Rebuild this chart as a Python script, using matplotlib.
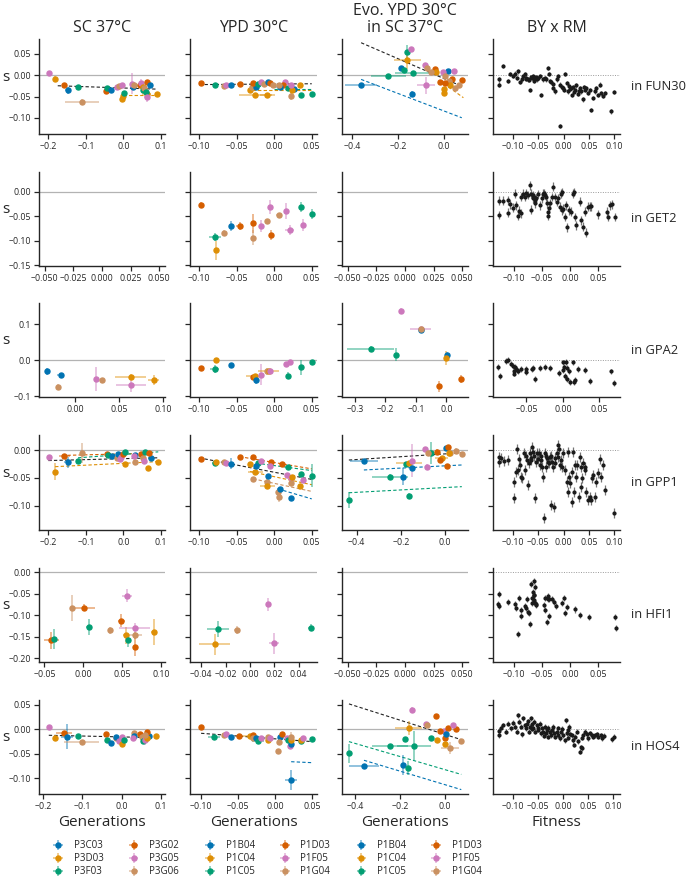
import numpy as np
import matplotlib
matplotlib.use("Agg")
import matplotlib.pyplot as plt

plt.rcParams["font.family"] = ["Open Sans", "DejaVu Sans"]

# ─── Data ─────────────────────────────────────────────────────────────────────

PAL = ["#0173b2", "#de8f05", "#029e73", "#d55e00", "#cc78bc", "#ca9161"]
STRAINS_SC = ["P3C03", "P3D03", "P3F03", "P3G02", "P3G05", "P3G06"]
STRAINS_YPD = ["P1B04", "P1C04", "P1C05", "P1D03", "P1F05", "P1G04"]
GENES = ["FUN30", "GET2", "GPA2", "GPP1", "HFI1", "HOS4"]
COL_TITLES = ["SC 37°C", "YPD 30°C", "Evo. YPD 30°C\nin SC 37°C", "BY x RM"]

# rows: (strain index, generations, s, generations err, s err)
FUN30_SC = [
    (4, -0.198, 0.005, 0.004, 0.003), (1, -0.182, -0.008, 0.003, 0.006),
    (3, -0.158, -0.024, 0.004, 0.003), (0, -0.149, -0.035, 0.008, 0.008),
    (2, -0.122, -0.027, 0.004, 0.004), (5, -0.111, -0.063, 0.045, 0.006),
    (3, -0.047, -0.038, 0.004, 0.003), (2, -0.043, -0.029, 0.003, 0.003),
    (0, -0.033, -0.034, 0.003, 0.003), (4, -0.018, -0.027, 0.003, 0.003),
    (5, -0.013, -0.026, 0.003, 0.003), (4, -0.005, -0.024, 0.003, 0.003),
    (1, -0.004, -0.056, 0.003, 0.004), (1, 0.000, -0.049, 0.003, 0.004),
    (2, 0.002, -0.041, 0.003, 0.003), (0, 0.026, -0.027, 0.004, 0.003),
    (4, 0.024, -0.020, 0.003, 0.025), (5, 0.028, -0.022, 0.003, 0.003),
    (3, 0.044, -0.024, 0.003, 0.003), (4, 0.048, -0.018, 0.003, 0.008),
    (1, 0.051, -0.027, 0.003, 0.003), (1, 0.062, -0.044, 0.012, 0.003),
    (2, 0.053, -0.035, 0.003, 0.003), (5, 0.055, -0.030, 0.003, 0.003),
    (2, 0.059, -0.040, 0.003, 0.003), (4, 0.062, -0.051, 0.008, 0.013),
    (3, 0.064, -0.015, 0.003, 0.003), (0, 0.070, -0.024, 0.003, 0.004),
    (1, 0.089, -0.044, 0.004, 0.003),
]
FUN30_YPD = [
    (3, -0.097, -0.018, 0.002, 0.003), (2, -0.079, -0.024, 0.003, 0.003),
    (5, -0.067, -0.026, 0.002, 0.003), (4, -0.064, -0.022, 0.002, 0.003),
    (0, -0.058, -0.023, 0.002, 0.003), (3, -0.046, -0.020, 0.003, 0.003),
    (1, -0.032, -0.035, 0.002, 0.003), (1, -0.025, -0.046, 0.022, 0.003),
    (1, -0.009, -0.047, 0.010, 0.003), (5, -0.029, -0.027, 0.002, 0.003),
    (0, -0.024, -0.027, 0.002, 0.003), (3, -0.028, -0.018, 0.002, 0.003),
    (2, -0.022, -0.020, 0.002, 0.003), (4, -0.018, -0.015, 0.002, 0.003),
    (5, -0.013, -0.020, 0.002, 0.003), (0, -0.008, -0.016, 0.002, 0.003),
    (3, -0.005, -0.018, 0.002, 0.003), (5, -0.002, -0.022, 0.002, 0.003),
    (4, 0.015, -0.016, 0.002, 0.003), (3, 0.012, -0.022, 0.002, 0.003),
    (0, 0.008, -0.027, 0.010, 0.003), (5, 0.006, -0.024, 0.002, 0.003),
    (2, 0.018, -0.030, 0.002, 0.003), (0, 0.027, -0.032, 0.002, 0.003),
    (5, 0.022, -0.049, 0.002, 0.010), (1, 0.024, -0.034, 0.002, 0.003),
    (4, 0.022, -0.024, 0.002, 0.003), (1, 0.035, -0.022, 0.002, 0.003),
    (2, 0.036, -0.047, 0.002, 0.004), (2, 0.050, -0.044, 0.002, 0.003),
]
FUN30_EVO = [
    (0, -0.359, -0.022, 0.070, 0.004), (2, -0.243, -0.002, 0.076, 0.004),
    (0, -0.185, 0.016, 0.008, 0.003), (2, -0.173, 0.013, 0.008, 0.003),
    (2, -0.159, 0.054, 0.006, 0.017), (4, -0.144, 0.062, 0.006, 0.004),
    (1, -0.159, 0.035, 0.060, 0.020), (2, -0.134, 0.005, 0.080, 0.004),
    (0, -0.141, -0.044, 0.006, 0.008), (4, -0.083, 0.023, 0.008, 0.003),
    (5, -0.076, 0.017, 0.006, 0.003), (3, -0.039, 0.015, 0.006, 0.003),
    (1, -0.036, 0.007, 0.006, 0.003), (4, -0.079, -0.024, 0.040, 0.020),
    (3, -0.017, -0.016, 0.006, 0.003), (5, -0.057, 0.007, 0.006, 0.003),
    (0, 0.016, 0.009, 0.006, 0.003), (4, -0.003, 0.007, 0.006, 0.003),
    (4, 0.045, 0.009, 0.006, 0.003), (3, 0.033, -0.010, 0.006, 0.003),
    (3, 0.077, -0.012, 0.006, 0.003), (5, 0.004, -0.001, 0.006, 0.003),
    (5, 0.022, -0.014, 0.006, 0.003), (5, 0.048, -0.030, 0.006, 0.003),
    (5, 0.063, -0.022, 0.006, 0.003), (1, 0.000, -0.032, 0.006, 0.004),
    (1, 0.001, -0.042, 0.006, 0.004), (1, 0.026, -0.022, 0.006, 0.003),
    (3, 0.004, -0.018, 0.006, 0.003),
]
GET2_SC = []
GET2_YPD = [
    (3, -0.097, -0.028, 0.002, 0.006), (2, -0.079, -0.093, 0.008, 0.008),
    (1, -0.077, -0.120, 0.002, 0.020), (5, -0.067, -0.084, 0.002, 0.005),
    (0, -0.058, -0.070, 0.002, 0.010), (3, -0.046, -0.071, 0.005, 0.008),
    (3, -0.028, -0.065, 0.002, 0.020), (5, -0.028, -0.094, 0.002, 0.015),
    (5, -0.009, -0.060, 0.002, 0.004), (4, -0.018, -0.071, 0.002, 0.012),
    (4, -0.005, -0.031, 0.002, 0.014), (3, -0.004, -0.089, 0.002, 0.010),
    (5, 0.006, -0.048, 0.004, 0.005), (4, 0.016, -0.039, 0.002, 0.016),
    (4, 0.021, -0.079, 0.006, 0.010), (2, 0.036, -0.031, 0.002, 0.010),
    (4, 0.038, -0.069, 0.002, 0.012), (2, 0.050, -0.045, 0.002, 0.010),
]
GET2_EVO = []
GPA2_SC = [
    (0, -0.032, -0.031, 0.002, 0.010), (0, -0.016, -0.042, 0.004, 0.006),
    (5, -0.019, -0.075, 0.002, 0.008), (4, 0.024, -0.052, 0.003, 0.034),
    (5, 0.031, -0.054, 0.003, 0.006), (1, 0.063, -0.046, 0.018, 0.008),
    (4, 0.063, -0.069, 0.017, 0.020), (1, 0.089, -0.054, 0.006, 0.014),
]
GPA2_YPD = [
    (3, -0.097, -0.021, 0.002, 0.006), (1, -0.077, 0.000, 0.002, 0.004),
    (2, -0.079, -0.024, 0.006, 0.010), (0, -0.058, -0.012, 0.002, 0.004),
    (3, -0.028, -0.046, 0.002, 0.006), (1, -0.025, -0.044, 0.012, 0.006),
    (0, -0.024, -0.056, 0.002, 0.010), (4, -0.018, -0.040, 0.002, 0.030),
    (5, -0.009, -0.031, 0.002, 0.010), (1, -0.007, -0.031, 0.014, 0.004),
    (4, -0.005, -0.031, 0.002, 0.004), (4, 0.016, -0.011, 0.002, 0.004),
    (4, 0.021, -0.005, 0.002, 0.004), (2, 0.018, -0.043, 0.002, 0.010),
    (2, 0.036, -0.020, 0.002, 0.020), (2, 0.050, -0.005, 0.002, 0.004),
]
GPA2_EVO = [
    (4, -0.147, 0.136, 0.004, 0.008), (4, -0.084, 0.088, 0.034, 0.004),
    (0, -0.084, 0.085, 0.004, 0.004), (5, -0.082, 0.088, 0.004, 0.004),
    (2, -0.248, 0.031, 0.077, 0.008), (2, -0.164, 0.015, 0.004, 0.018),
    (0, 0.001, 0.014, 0.004, 0.010), (1, -0.002, 0.007, 0.004, 0.020),
    (3, -0.025, -0.072, 0.004, 0.015), (3, 0.047, -0.052, 0.004, 0.010),
]
GPP1_SC = [
    (4, -0.198, -0.012, 0.004, 0.003), (1, -0.182, -0.039, 0.003, 0.015),
    (3, -0.158, -0.010, 0.015, 0.003), (0, -0.149, -0.022, 0.010, 0.010),
    (2, -0.121, -0.019, 0.004, 0.003), (5, -0.110, -0.006, 0.003, 0.018),
    (3, -0.044, -0.008, 0.003, 0.003), (2, -0.040, -0.009, 0.003, 0.003),
    (0, -0.031, -0.011, 0.003, 0.003), (5, -0.018, -0.015, 0.003, 0.003),
    (0, -0.015, -0.008, 0.003, 0.003), (4, -0.008, -0.016, 0.003, 0.003),
    (4, -0.006, -0.012, 0.003, 0.003), (3, -0.001, -0.007, 0.003, 0.003),
    (2, 0.005, -0.004, 0.003, 0.003), (1, 0.003, -0.025, 0.003, 0.003),
    (5, 0.032, -0.021, 0.003, 0.004), (0, 0.032, -0.009, 0.003, 0.003),
    (4, 0.028, -0.011, 0.003, 0.003), (3, 0.048, -0.008, 0.003, 0.003),
    (5, 0.052, -0.015, 0.003, 0.003), (2, 0.057, -0.004, 0.003, 0.003),
    (4, 0.055, -0.019, 0.003, 0.003), (0, 0.073, -0.014, 0.003, 0.003),
    (1, 0.066, -0.033, 0.006, 0.003), (3, 0.068, -0.006, 0.003, 0.003),
    (1, 0.093, -0.022, 0.003, 0.003),
]
GPP1_YPD = [
    (3, -0.097, -0.016, 0.002, 0.003), (2, -0.079, -0.024, 0.004, 0.003),
    (1, -0.077, -0.022, 0.002, 0.003), (5, -0.067, -0.021, 0.002, 0.003),
    (4, -0.064, -0.024, 0.002, 0.003), (0, -0.058, -0.025, 0.002, 0.010),
    (3, -0.046, -0.012, 0.002, 0.003), (3, -0.028, -0.012, 0.002, 0.003),
    (1, -0.032, -0.025, 0.002, 0.003), (1, -0.025, -0.039, 0.010, 0.003),
    (2, -0.022, -0.024, 0.002, 0.003), (0, -0.024, -0.029, 0.002, 0.003),
    (5, -0.028, -0.052, 0.002, 0.004), (4, -0.018, -0.020, 0.002, 0.003),
    (5, -0.009, -0.057, 0.002, 0.006), (1, -0.009, -0.065, 0.010, 0.004),
    (0, -0.008, -0.046, 0.002, 0.003), (3, -0.004, -0.021, 0.002, 0.003),
    (4, -0.005, -0.028, 0.002, 0.003), (5, 0.005, -0.075, 0.002, 0.004),
    (5, 0.006, -0.084, 0.002, 0.010), (0, 0.008, -0.070, 0.004, 0.003),
    (3, 0.010, -0.026, 0.002, 0.003), (2, 0.018, -0.030, 0.002, 0.003),
    (4, 0.017, -0.045, 0.002, 0.003), (4, 0.022, -0.051, 0.002, 0.003),
    (5, 0.022, -0.059, 0.002, 0.004), (1, 0.024, -0.048, 0.002, 0.003),
    (0, 0.023, -0.086, 0.002, 0.004), (1, 0.035, -0.065, 0.002, 0.003),
    (2, 0.036, -0.044, 0.002, 0.003), (4, 0.038, -0.054, 0.002, 0.003),
    (2, 0.050, -0.046, 0.002, 0.020),
]
GPP1_EVO = [
    (0, -0.367, -0.020, 0.065, 0.004), (2, -0.435, -0.090, 0.006, 0.015),
    (2, -0.249, -0.048, 0.080, 0.004), (0, -0.189, -0.048, 0.006, 0.015),
    (2, -0.163, -0.083, 0.006, 0.006), (2, -0.178, -0.026, 0.006, 0.004),
    (1, -0.163, -0.023, 0.060, 0.004), (4, -0.151, -0.019, 0.006, 0.030),
    (0, -0.148, -0.033, 0.006, 0.004), (2, -0.063, -0.006, 0.006, 0.020),
    (4, -0.091, 0.001, 0.006, 0.004), (4, -0.083, -0.030, 0.006, 0.004),
    (5, -0.079, -0.006, 0.006, 0.004), (3, -0.038, -0.003, 0.006, 0.004),
    (1, -0.015, -0.015, 0.030, 0.004), (3, -0.023, -0.018, 0.006, 0.004),
    (0, 0.003, 0.003, 0.006, 0.004), (3, 0.012, 0.005, 0.006, 0.004),
    (5, 0.023, -0.006, 0.006, 0.004), (5, 0.048, -0.001, 0.006, 0.004),
    (5, 0.076, -0.007, 0.006, 0.004), (1, 0.018, -0.005, 0.006, 0.004),
    (3, 0.008, -0.029, 0.006, 0.004),
]
HFI1_SC = [
    (3, -0.041, -0.159, 0.010, 0.020), (2, -0.038, -0.155, 0.002, 0.023),
    (5, -0.015, -0.084, 0.002, 0.030), (3, 0.001, -0.083, 0.014, 0.008),
    (2, 0.007, -0.128, 0.004, 0.018), (5, 0.034, -0.135, 0.002, 0.008),
    (3, 0.049, -0.113, 0.004, 0.015), (1, 0.055, -0.147, 0.004, 0.020),
    (4, 0.056, -0.055, 0.006, 0.015), (2, 0.057, -0.159, 0.002, 0.015),
    (4, 0.066, -0.131, 0.020, 0.012), (5, 0.066, -0.147, 0.010, 0.008),
    (3, 0.067, -0.174, 0.002, 0.020), (1, 0.091, -0.139, 0.004, 0.030),
]
HFI1_YPD = [
    (1, -0.029, -0.168, 0.013, 0.025), (2, -0.026, -0.132, 0.009, 0.018),
    (5, -0.011, -0.135, 0.002, 0.010), (4, 0.015, -0.075, 0.002, 0.015),
    (4, 0.020, -0.166, 0.004, 0.025), (2, 0.050, -0.129, 0.002, 0.008),
]
HFI1_EVO = []
HOS4_SC = [
    (4, -0.186, 0.005, 0.004, 0.003), (1, -0.170, -0.017, 0.003, 0.006),
    (3, -0.147, -0.008, 0.020, 0.003), (0, -0.140, -0.015, 0.015, 0.025),
    (2, -0.112, -0.014, 0.004, 0.003), (5, -0.102, -0.025, 0.045, 0.004),
    (3, -0.040, -0.010, 0.004, 0.004), (2, -0.037, -0.021, 0.003, 0.003),
    (0, -0.027, -0.027, 0.003, 0.003), (5, -0.015, -0.018, 0.003, 0.003),
    (0, -0.013, -0.016, 0.003, 0.003), (4, -0.006, -0.023, 0.003, 0.003),
    (4, 0.000, -0.015, 0.003, 0.003), (1, 0.001, -0.029, 0.003, 0.003),
    (2, 0.007, -0.022, 0.003, 0.003), (5, 0.031, -0.008, 0.003, 0.003),
    (0, 0.032, -0.014, 0.003, 0.003), (4, 0.028, -0.017, 0.003, 0.003),
    (3, 0.047, -0.010, 0.003, 0.003), (5, 0.051, -0.015, 0.003, 0.003),
    (2, 0.055, -0.024, 0.003, 0.003), (4, 0.060, -0.022, 0.003, 0.010),
    (0, 0.071, -0.013, 0.003, 0.003), (1, 0.064, -0.017, 0.003, 0.003),
    (3, 0.066, -0.005, 0.003, 0.003), (5, 0.061, -0.012, 0.003, 0.003),
    (1, 0.089, -0.013, 0.003, 0.003),
]
HOS4_YPD = [
    (3, -0.100, 0.004, 0.002, 0.003), (2, -0.082, -0.015, 0.008, 0.003),
    (5, -0.069, -0.012, 0.002, 0.003), (4, -0.066, -0.010, 0.002, 0.003),
    (0, -0.060, -0.015, 0.002, 0.003), (3, -0.048, -0.014, 0.002, 0.003),
    (1, -0.034, -0.013, 0.010, 0.003), (3, -0.029, -0.012, 0.002, 0.003),
    (5, -0.030, -0.017, 0.002, 0.003), (0, -0.026, -0.018, 0.002, 0.003),
    (2, -0.023, -0.024, 0.008, 0.003), (4, -0.019, -0.017, 0.002, 0.003),
    (1, -0.010, -0.022, 0.002, 0.003), (5, -0.009, -0.015, 0.002, 0.003),
    (4, -0.006, -0.017, 0.002, 0.003), (0, 0.007, -0.016, 0.002, 0.003),
    (3, 0.010, -0.010, 0.002, 0.003), (5, 0.005, -0.025, 0.002, 0.003),
    (5, 0.004, -0.044, 0.002, 0.003), (4, 0.016, -0.018, 0.002, 0.003),
    (2, 0.018, -0.022, 0.002, 0.003), (4, 0.020, -0.034, 0.002, 0.003),
    (0, 0.022, -0.029, 0.002, 0.003), (1, 0.022, -0.022, 0.002, 0.003),
    (5, 0.022, -0.015, 0.002, 0.010), (2, 0.035, -0.024, 0.002, 0.003),
    (1, 0.036, -0.021, 0.002, 0.003), (4, 0.038, -0.017, 0.002, 0.003),
    (2, 0.050, -0.020, 0.002, 0.003), (0, 0.022, -0.103, 0.008, 0.020),
]
HOS4_EVO = [
    (0, -0.360, -0.075, 0.065, 0.004), (2, -0.427, -0.049, 0.006, 0.020),
    (2, -0.244, -0.034, 0.080, 0.004), (0, -0.188, -0.073, 0.006, 0.020),
    (2, -0.163, -0.079, 0.006, 0.015), (2, -0.175, -0.020, 0.006, 0.004),
    (2, -0.136, -0.034, 0.075, 0.030), (1, -0.160, 0.003, 0.060, 0.015),
    (4, -0.148, 0.040, 0.006, 0.006), (4, -0.084, 0.011, 0.006, 0.004),
    (5, -0.081, 0.009, 0.006, 0.004), (4, -0.003, -0.003, 0.006, 0.004),
    (3, -0.040, 0.027, 0.006, 0.004), (3, -0.022, -0.003, 0.006, 0.004),
    (3, 0.015, 0.002, 0.006, 0.004), (3, 0.052, 0.000, 0.006, 0.004),
    (3, 0.000, -0.017, 0.006, 0.004), (4, 0.037, 0.008, 0.006, 0.004),
    (1, -0.033, -0.021, 0.006, 0.004), (1, 0.000, -0.029, 0.006, 0.004),
    (5, 0.022, -0.038, 0.040, 0.012), (5, 0.074, -0.024, 0.006, 0.004),
    (0, 0.007, -0.010, 0.006, 0.004), (2, -0.062, -0.018, 0.006, 0.004),
]

# fitted lines: (strain index or -1 for pooled, x start, x end, slope, intercept)
FUN30_SC_FIT = [(-1, -0.175, 0.09, -0.030, -0.030), (1, 0.0, 0.09, 0.0, -0.047)]
FUN30_YPD_FIT = [(-1, -0.10, 0.05, 0.013, -0.0207), (1, -0.03, 0.05, 0.0, -0.035),
                 (2, 0.0, 0.05, 0.0, -0.032)]
FUN30_EVO_FIT = [(-1, -0.36, 0.077, -0.234, -0.008), (0, -0.36, 0.077, -0.206, -0.084),
                 (1, 0.0, 0.084, -0.39, -0.020)]
GPP1_SC_FIT = [(-1, -0.20, 0.093, 0.017, -0.0156), (1, -0.182, 0.093, 0.033, -0.024),
               (3, -0.164, 0.068, 0.017, -0.007), (2, -0.121, 0.093, 0.05, -0.008)]
GPP1_YPD_FIT = [(-1, -0.10, 0.05, -0.259, -0.040), (3, -0.046, 0.05, -0.229, -0.0225),
                (2, -0.024, 0.05, -0.18, -0.028), (1, -0.032, 0.05, -0.29, -0.048),
                (5, -0.028, 0.05, -0.29, -0.060), (0, 0.005, 0.05, -0.40, -0.068)]
GPP1_EVO_FIT = [(-1, -0.435, 0.076, 0.0254, -0.007), (0, -0.367, 0.076, 0.0203, -0.0285),
                (2, -0.435, 0.076, 0.0215, -0.0676)]
HOS4_SC_FIT = [(-1, -0.186, 0.089, -0.018, -0.0154)]
HOS4_YPD_FIT = [(-1, -0.10, 0.05, -0.113, -0.0193), (0, 0.022, 0.05, -0.07, -0.0645)]
HOS4_EVO_FIT = [(-1, -0.427, 0.074, -0.1457, -0.0102), (2, -0.427, 0.074, -0.1337, -0.0821),
                (0, -0.36, 0.074, -0.138, -0.1128)]

# BY x RM segregants: fitness vs s
BY_FUN30_X = [-0.128, -0.128, -0.120, -0.110, -0.107, -0.100, -0.097, -0.093, -0.090, -0.087,
              -0.083, -0.080, -0.077, -0.074, -0.070, -0.067, -0.064, -0.060, -0.057, -0.054,
              -0.050, -0.047, -0.044, -0.041, -0.037, -0.034, -0.031, -0.029, -0.027, -0.024,
              -0.021, -0.017, -0.014, -0.011, -0.008, -0.004, -0.001, 0.002, 0.006, 0.009,
              0.012, 0.016, 0.019, 0.022, 0.025, 0.029, 0.032, 0.035, 0.039, 0.042,
              0.045, 0.049, 0.052, 0.055, 0.058, 0.062, 0.065, 0.068, 0.072, 0.075,
              0.078, 0.082, 0.095, 0.100, -0.008, -0.075, -0.068, -0.062, -0.058, -0.052,
              0.000, 0.010, 0.020, 0.030, 0.040, -0.020, 0.015]
BY_FUN30_Y = [-0.010, -0.022, 0.021, -0.014, 0.002, -0.002, 0.004, -0.006, 0.009, -0.016,
              -0.010, -0.002, 0.002, -0.006, -0.010, -0.034, -0.004, -0.001, -0.009, -0.004,
              -0.006, -0.001, -0.046, -0.010, -0.006, -0.010, 0.017, 0.002, -0.014, -0.016,
              -0.030, -0.038, -0.010, -0.002, -0.022, -0.027, -0.030, 0.002, -0.018, -0.038,
              -0.032, -0.046, -0.027, -0.034, -0.024, -0.043, -0.030, -0.038, -0.057, -0.034,
              -0.030, -0.042, -0.034, -0.081, -0.053, -0.038, -0.030, -0.046, -0.022, -0.042,
              -0.049, -0.042, -0.085, -0.040, -0.120, -0.008, -0.012, -0.006, -0.014, -0.010,
              -0.035, -0.025, -0.040, -0.036, -0.028, -0.020, -0.030]
BY_GET2_X = [-0.127, -0.127, -0.120, -0.111, -0.110, -0.107, -0.102, -0.099, -0.096, -0.093,
             -0.092, -0.088, -0.087, -0.084, -0.081, -0.078, -0.075, -0.072, -0.070, -0.069,
             -0.067, -0.066, -0.065, -0.063, -0.062, -0.060, -0.057, -0.054, -0.051, -0.048,
             -0.046, -0.045, -0.043, -0.042, -0.040, -0.039, -0.038, -0.036, -0.033, -0.030,
             -0.027, -0.024, -0.021, -0.018, -0.017, -0.015, -0.014, -0.013, -0.010, -0.007,
             -0.005, -0.002, 0.002, 0.005, 0.007, 0.008, 0.011, 0.017, 0.020, 0.023,
             0.026, 0.029, 0.032, 0.035, 0.038, 0.049, 0.065, 0.068, 0.071, 0.074, 0.079]
BY_GET2_Y = [-0.048, -0.019, -0.019, -0.043, -0.018, -0.026, -0.033, -0.004, -0.028, -0.050,
             -0.039, -0.044, -0.011, -0.004, -0.011, -0.003, -0.007, 0.013, -0.004, -0.037,
             -0.014, -0.007, -0.011, -0.018, -0.024, -0.014, -0.005, -0.028, -0.014, -0.004,
             -0.003, -0.007, -0.011, -0.024, -0.050, -0.041, -0.033, -0.024, -0.011, 0.010,
             -0.011, -0.021, -0.014, -0.031, -0.004, -0.001, -0.038, -0.035, -0.052, -0.028,
             -0.073, -0.038, -0.041, -0.004, -0.001, -0.052, -0.069, -0.021, -0.059, -0.072,
             -0.041, -0.084, -0.031, -0.030, -0.030, -0.046, -0.041, -0.052, -0.028, -0.026, -0.052]
BY_GPA2_X = [-0.089, -0.086, -0.078, -0.076, -0.071, -0.069, -0.067, -0.067, -0.066, -0.064,
             -0.063, -0.061, -0.058, -0.050, -0.050, -0.043, -0.041, -0.038, -0.031, -0.025,
             -0.017, -0.006, 0.000, 0.000, 0.002, 0.003, 0.005, 0.006, 0.009, 0.010,
             0.014, 0.015, 0.016, 0.021, 0.031, 0.037, 0.066, 0.070, 0.004]
BY_GPA2_Y = [-0.019, -0.043, -0.003, 0.000, -0.009, -0.015, -0.037, -0.031, -0.019, -0.023,
             -0.026, -0.031, -0.024, -0.023, -0.033, -0.024, -0.022, -0.052, -0.022, -0.019,
             -0.021, -0.035, -0.026, -0.006, -0.019, -0.044, -0.052, -0.021, -0.031, -0.061,
             -0.006, -0.061, -0.054, -0.024, -0.026, -0.058, -0.031, -0.063, -0.004]
BY_GPP1_X = [-0.128, -0.128, -0.124, -0.118, -0.110, -0.098, -0.098, -0.095, -0.093, -0.091,
             -0.089, -0.087, -0.085, -0.082, -0.078, -0.077, -0.075, -0.072, -0.070, -0.069,
             -0.067, -0.065, -0.064, -0.062, -0.060, -0.058, -0.057, -0.054, -0.052, -0.050,
             -0.049, -0.047, -0.045, -0.044, -0.043, -0.041, -0.039, -0.037, -0.035, -0.034,
             -0.033, -0.031, -0.029, -0.027, -0.025, -0.024, -0.023, -0.021, -0.019, -0.017,
             -0.016, -0.014, -0.012, -0.011, -0.010, -0.008, -0.006, -0.004, -0.001, 0.002,
             0.006, 0.008, 0.009, 0.010, 0.012, 0.016, 0.017, 0.019, 0.021, 0.022,
             0.025, 0.027, 0.030, 0.032, 0.034, 0.035, 0.037, 0.039, 0.042, 0.043,
             0.045, 0.049, 0.052, 0.055, 0.056, 0.058, 0.062, 0.065, 0.068, 0.072,
             0.074, 0.078, 0.082, 0.100]
BY_GPP1_Y = [-0.012, -0.021, -0.015, -0.019, -0.018, -0.057, -0.086, -0.039, 0.001, -0.036,
             -0.017, -0.027, -0.048, -0.051, -0.006, -0.036, -0.011, -0.018, -0.063, -0.024,
             -0.006, -0.018, -0.015, 0.006, -0.003, -0.011, -0.086, -0.021, -0.005, -0.017,
             -0.006, -0.027, -0.011, -0.018, -0.030, -0.048, -0.123, -0.006, -0.030, -0.011,
             -0.015, -0.021, -0.024, -0.012, -0.099, -0.011, -0.021, -0.030, -0.102, -0.015,
             -0.024, -0.006, 0.009, -0.012, 0.001, -0.027, -0.018, -0.030, -0.006, -0.036,
             -0.057, -0.075, -0.003, -0.048, -0.060, -0.039, -0.093, -0.003, -0.075, -0.027,
             -0.048, -0.027, -0.084, -0.012, -0.066, -0.030, -0.051, -0.024, -0.030, -0.036,
             -0.075, -0.090, -0.084, -0.090, -0.051, -0.045, -0.084, -0.057, -0.042, -0.017,
             -0.048, -0.027, -0.072, -0.114]
BY_HFI1_X = [-0.128, -0.127, -0.126, -0.111, -0.098, -0.096, -0.092, -0.093, -0.088, -0.087,
             -0.079, -0.077, -0.075, -0.074, -0.071, -0.070, -0.068, -0.067, -0.065, -0.064,
             -0.063, -0.062, -0.061, -0.064, -0.065, -0.047, -0.045, -0.044, -0.042, -0.040,
             -0.039, -0.038, -0.037, -0.032, -0.029, -0.025, -0.015, -0.011, -0.009, -0.005,
             0.008, 0.018, 0.033, 0.079, 0.082, -0.068, -0.060, -0.081]
BY_HFI1_Y = [-0.075, -0.078, -0.051, -0.070, -0.075, -0.084, -0.061, -0.143, -0.102, -0.089,
             -0.084, -0.063, -0.092, -0.096, -0.120, -0.027, -0.061, -0.047, -0.053, -0.020,
             -0.035, -0.073, -0.077, -0.053, -0.065, -0.077, -0.061, -0.089, -0.117, -0.055,
             -0.063, -0.102, -0.063, -0.063, -0.070, -0.079, -0.071, -0.061, -0.095, -0.081,
             -0.087, -0.100, -0.105, -0.104, -0.131, -0.073, -0.075, -0.079]
BY_HOS4_X = [-0.129, -0.129, -0.125, -0.120, -0.115, -0.110, -0.105, -0.101, -0.097, -0.093,
             -0.090, -0.089, -0.085, -0.083, -0.080, -0.077, -0.075, -0.073, -0.071, -0.069,
             -0.067, -0.065, -0.063, -0.062, -0.060, -0.058, -0.057, -0.053, -0.051, -0.050,
             -0.047, -0.045, -0.043, -0.040, -0.038, -0.037, -0.035, -0.033, -0.031, -0.030,
             -0.027, -0.025, -0.023, -0.020, -0.018, -0.017, -0.013, -0.011, -0.010, -0.007,
             -0.005, -0.003, 0.000, 0.003, 0.005, 0.007, 0.009, 0.010, 0.011, 0.013,
             0.017, 0.020, 0.022, 0.023, 0.027, 0.030, 0.033, 0.035, 0.037, 0.038,
             0.040, 0.043, 0.047, 0.050, 0.053, 0.057, 0.060, 0.063, 0.067, 0.070,
             0.075, 0.078, 0.082, 0.097, 0.102]
BY_HOS4_Y = [-0.012, -0.003, 0.003, 0.009, -0.005, 0.012, 0.002, 0.014, 0.005, -0.005,
             0.029, 0.016, 0.005, -0.010, 0.023, 0.009, 0.002, 0.012, 0.017, -0.005,
             0.005, 0.023, 0.010, 0.001, 0.003, 0.016, -0.005, 0.009, 0.003, -0.001,
             0.012, -0.008, 0.002, -0.005, -0.013, 0.005, -0.008, -0.001, -0.015, 0.003,
             -0.005, -0.012, -0.001, 0.005, -0.008, -0.015, -0.005, 0.002, -0.012, -0.018,
             -0.005, 0.001, -0.012, -0.022, 0.019, -0.008, -0.001, -0.017, 0.005, -0.010,
             -0.012, -0.022, -0.032, -0.015, -0.005, -0.024, -0.046, -0.036, -0.017, -0.039,
             -0.012, -0.005, -0.010, -0.018, -0.008, -0.012, -0.015, -0.012, -0.010, -0.015,
             -0.012, -0.018, -0.013, -0.020, -0.015]
BY_YERR = [0.005, 0.009, 0.008, 0.009, 0.007, 0.005]

# axis limits per row (s) and per panel (x)
YLIMS = [(-0.138, 0.085), (-0.152, 0.04), (-0.102, 0.159),
         (-0.144, 0.027), (-0.209, 0.0094), (-0.132, 0.060)]
YTICKS = [[-0.10, -0.05, 0.0, 0.05], [-0.15, -0.10, -0.05, 0.0], [-0.1, 0.0, 0.1],
          [-0.10, -0.05, 0.0], [-0.20, -0.15, -0.10, -0.05, 0.0], [-0.10, -0.05, 0.0, 0.05]]
XLIMS = [
    [(-0.225, 0.111), (-0.112, 0.057), (-0.443, 0.104), (-0.140, 0.112)],
    [(-0.055, 0.055), (-0.112, 0.057), (-0.055, 0.055), (-0.1375, 0.0888)],
    [(-0.0408, 0.102), (-0.112, 0.057), (-0.342, 0.071), (-0.096, 0.0785)],
    [(-0.225, 0.111), (-0.112, 0.057), (-0.466, 0.104), (-0.140, 0.112)],
    [(-0.0569, 0.105), (-0.0492, 0.055), (-0.055, 0.055), (-0.1375, 0.0888)],
    [(-0.211, 0.111), (-0.115, 0.057), (-0.458, 0.104), (-0.140, 0.113)],
]
XTICKS = [
    [[-0.2, -0.1, 0.0, 0.1], [-0.10, -0.05, 0.0, 0.05], [-0.4, -0.2, 0.0], [-0.10, -0.05, 0.0, 0.05, 0.10]],
    [[-0.05, -0.025, 0.0, 0.025, 0.05], [-0.10, -0.05, 0.0, 0.05], [-0.05, -0.025, 0.0, 0.025, 0.05], [-0.10, -0.05, 0.0, 0.05]],
    [[0.0, 0.05, 0.10], [-0.10, -0.05, 0.0, 0.05], [-0.3, -0.2, -0.1, 0.0], [-0.05, 0.0, 0.05]],
    [[-0.2, -0.1, 0.0, 0.1], [-0.10, -0.05, 0.0, 0.05], [-0.4, -0.2, 0.0], [-0.10, -0.05, 0.0, 0.05, 0.10]],
    [[-0.05, 0.0, 0.05, 0.10], [-0.04, -0.02, 0.0, 0.02, 0.04], [-0.05, -0.025, 0.0, 0.025, 0.05], [-0.10, -0.05, 0.0, 0.05]],
    [[-0.2, -0.1, 0.0, 0.1], [-0.10, -0.05, 0.0, 0.05], [-0.4, -0.2, 0.0], [-0.10, -0.05, 0.0, 0.05, 0.10]],
]
XFMT = [
    ["{:.1f}", "{:.2f}", "{:.1f}", "{:.2f}"],
    ["{:.3f}", "{:.2f}", "{:.3f}", "{:.2f}"],
    ["{:.2f}", "{:.2f}", "{:.1f}", "{:.2f}"],
    ["{:.1f}", "{:.2f}", "{:.1f}", "{:.2f}"],
    ["{:.2f}", "{:.2f}", "{:.3f}", "{:.2f}"],
    ["{:.1f}", "{:.2f}", "{:.1f}", "{:.2f}"],
]
YFMT = ["{:.2f}", "{:.2f}", "{:.1f}", "{:.2f}", "{:.2f}", "{:.2f}"]

PANELS = [
    [FUN30_SC, FUN30_YPD, FUN30_EVO],
    [GET2_SC, GET2_YPD, GET2_EVO],
    [GPA2_SC, GPA2_YPD, GPA2_EVO],
    [GPP1_SC, GPP1_YPD, GPP1_EVO],
    [HFI1_SC, HFI1_YPD, HFI1_EVO],
    [HOS4_SC, HOS4_YPD, HOS4_EVO],
]
FITS = [
    [FUN30_SC_FIT, FUN30_YPD_FIT, FUN30_EVO_FIT],
    [[], [], []],
    [[], [], []],
    [GPP1_SC_FIT, GPP1_YPD_FIT, GPP1_EVO_FIT],
    [[], [], []],
    [HOS4_SC_FIT, HOS4_YPD_FIT, HOS4_EVO_FIT],
]
BY = [(BY_FUN30_X, BY_FUN30_Y), (BY_GET2_X, BY_GET2_Y), (BY_GPA2_X, BY_GPA2_Y),
      (BY_GPP1_X, BY_GPP1_Y), (BY_HFI1_X, BY_HFI1_Y), (BY_HOS4_X, BY_HOS4_Y)]

# ─── Layout (pixel boxes) ─────────────────────────────────────────────────────

W, H = 691, 876
COL_X = [(39, 165), (190, 317), (342, 468), (493, 620)]
ROW_Y = [(39, 134), (172, 266), (303, 397), (435, 530), (568, 662), (700, 794)]

fig = plt.figure(figsize=(W / 100, H / 100), dpi=100)


def fmt_tick(f, v):
    return f.format(v).replace("-", "\u2212")


def style(ax):
    for s in ["top", "right"]:
        ax.spines[s].set_visible(False)
    for s in ["left", "bottom"]:
        ax.spines[s].set_linewidth(1.0)
        ax.spines[s].set_color("#262626")
    ax.tick_params(length=3.5, width=0.9, labelsize=6.3, colors="#262626", pad=2)


def strain_panel(ax, rows, fits):
    ax.axhline(0, color="#b3b3b3", lw=0.9, zorder=0)
    for k, x, y, xe, ye in rows:
        eb = ax.errorbar(x, y, xerr=xe, yerr=ye, fmt="o", ms=3.6, color=PAL[k],
                         elinewidth=1.1, capsize=0, zorder=3)
        for lc in eb[2]:
            lc.set_alpha(0.55)
    for k, x0, x1, slope, icpt in fits:
        xs = np.array([x0, x1])
        c = "#222222" if k < 0 else PAL[k]
        ax.plot(xs, icpt + slope * xs, ls=(0, (3, 2)), lw=0.8, color=c, zorder=2)


axes = []
for r in range(6):
    row_axes = []
    for c in range(4):
        x0, x1 = COL_X[c]
        y0, y1 = ROW_Y[r]
        ax = fig.add_axes([x0 / W, 1 - y1 / H, (x1 - x0) / W, (y1 - y0) / H])
        style(ax)
        if c < 3:
            strain_panel(ax, PANELS[r][c], FITS[r][c])
        else:
            bx, byy = BY[r]
            eb = ax.errorbar(bx, byy, yerr=BY_YERR[r], xerr=0.0015, fmt="o", ms=2.0,
                             color="#1a1a1a", elinewidth=0.9, capsize=0, zorder=3)
            for lc in eb[2]:
                lc.set_alpha(0.6)
            ax.axhline(0, color="#9a9a9a", lw=0.7, ls=(0, (1, 1.5)), zorder=0)
        ax.set_xlim(*XLIMS[r][c])
        ax.set_ylim(*YLIMS[r])
        ax.set_xticks(XTICKS[r][c])
        ax.set_xticklabels([fmt_tick(XFMT[r][c], v) for v in XTICKS[r][c]])
        ax.set_yticks(YTICKS[r])
        if c == 0:
            ax.set_yticklabels([fmt_tick(YFMT[r], v) for v in YTICKS[r]])
            ax.set_ylabel("s", fontsize=11, rotation=0, color="#262626")
            ax.yaxis.set_label_coords(-0.26, 0.52)
        else:
            ax.set_yticklabels([])
        if r == 0:
            ax.set_title(COL_TITLES[c], fontsize=11.5, pad=5, color="#262626",
                         linespacing=1.05)
        if c == 3:
            ax.text(1.09, 0.5, "in " + GENES[r], transform=ax.transAxes,
                    fontsize=9.3, va="center", ha="left", color="#262626")
        row_axes.append(ax)
    axes.append(row_axes)

for c in range(4):
    axes[5][c].set_xlabel("Fitness" if c == 3 else "Generations", fontsize=11,
                          color="#262626", labelpad=3)

# legends under the first three columns
for c in range(3):
    ax = axes[5][c]
    names = STRAINS_SC if c == 0 else STRAINS_YPD
    handles = []
    for k, name in enumerate(names):
        h = ax.errorbar([np.nan], [np.nan], xerr=[0.01], yerr=[0.01], fmt="o", ms=3.6,
                        color=PAL[k], elinewidth=1.1, capsize=0, label=name)
        for lc in h[2]:
            lc.set_alpha(0.55)
        handles.append(h)
    ax.legend(handles=handles, loc="upper center", bbox_to_anchor=(0.6, -0.45),
              ncol=2, frameon=False, fontsize=7.0, handlelength=1.6,
              columnspacing=2.3, labelspacing=0.2, handletextpad=0.8,
              handleheight=0.6, borderaxespad=0.0, labelcolor="#262626")

fig.savefig("out.png", dpi=100)
